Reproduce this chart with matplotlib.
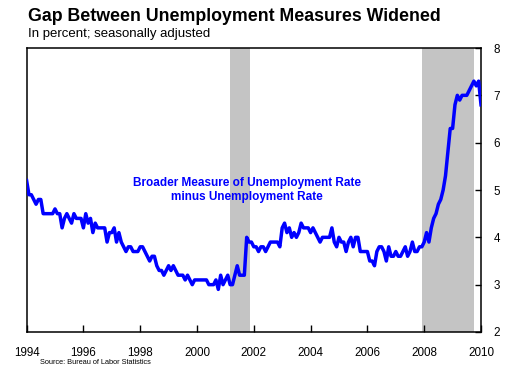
"""Gap between broader unemployment measure (U-6) and the official rate (U-3), 1994-2010."""

import matplotlib
matplotlib.use("Agg")
import matplotlib.pyplot as plt
import numpy as np


# monthly gap, Jan 1994 .. Jan 2010 (percentage points)
gap_values = [
    5.2, 4.9, 4.9, 4.8, 4.7, 4.8, 4.8, 4.5, 4.5, 4.5, 4.5, 4.5,  # 1994
    4.6, 4.5, 4.5, 4.2, 4.4, 4.5, 4.4, 4.3, 4.5, 4.4, 4.4, 4.4,  # 1995
    4.2, 4.5, 4.3, 4.4, 4.1, 4.3, 4.2, 4.2, 4.2, 4.2, 3.9, 4.1,  # 1996
    4.1, 4.2, 3.9, 4.1, 3.9, 3.8, 3.7, 3.8, 3.8, 3.7, 3.7, 3.7,  # 1997
    3.8, 3.8, 3.7, 3.6, 3.5, 3.6, 3.6, 3.4, 3.3, 3.3, 3.2, 3.3,  # 1998
    3.4, 3.3, 3.4, 3.3, 3.2, 3.2, 3.2, 3.1, 3.2, 3.1, 3.0, 3.1,  # 1999
    3.1, 3.1, 3.1, 3.1, 3.1, 3.0, 3.0, 3.0, 3.1, 2.9, 3.2, 3.0,  # 2000
    3.1, 3.2, 3.0, 3.0, 3.2, 3.4, 3.2, 3.2, 3.2, 4.0, 3.9, 3.9,  # 2001
    3.8, 3.8, 3.7, 3.8, 3.8, 3.7, 3.8, 3.9, 3.9, 3.9, 3.9, 3.8,  # 2002
    4.2, 4.3, 4.1, 4.2, 4.0, 4.1, 4.0, 4.1, 4.3, 4.2, 4.2, 4.2,  # 2003
    4.1, 4.2, 4.1, 4.0, 3.9, 4.0, 4.0, 4.0, 4.0, 4.2, 3.9, 3.8,  # 2004
    4.0, 3.9, 3.9, 3.7, 3.9, 4.0, 3.8, 4.0, 4.0, 3.7, 3.7, 3.7,  # 2005
    3.7, 3.5, 3.5, 3.4, 3.7, 3.8, 3.8, 3.7, 3.5, 3.8, 3.6, 3.6,  # 2006
    3.7, 3.6, 3.6, 3.7, 3.8, 3.6, 3.7, 3.9, 3.7, 3.7, 3.8, 3.8,  # 2007
    3.9, 4.1, 3.9, 4.2, 4.4, 4.5, 4.7, 4.8, 5.0, 5.3, 5.8, 6.3,  # 2008
    6.3, 6.8, 7.0, 6.9, 7.0, 7.0, 7.0, 7.1, 7.2, 7.3, 7.2, 7.3,  # 2009
    6.8,                                                          # 2010
]
start_year = 1994
recessions = [(2001.17, 2001.88), (2007.92, 2009.75)]
year_ticks = list(range(1994, 2011, 2))
value_ticks = [2, 3, 4, 5, 6, 7, 8]

TITLE = "Gap Between Unemployment Measures Widened"
SUBTITLE = "In percent; seasonally adjusted"
SOURCE = "Source: Bureau of Labor Statistics"
LABEL = "Broader Measure of Unemployment Rate\nminus Unemployment Rate"

plt.rcParams["font.family"] = ["Liberation Sans", "DejaVu Sans"]

W, H = 510, 370


def plot_gap():
    months = start_year + np.arange(len(gap_values)) / 12.0

    fig = plt.figure(figsize=(W / 100, H / 100), dpi=100)
    ax = fig.add_axes([26.6 / W, 1 - 332 / H, (481 - 26.6) / W, (332 - 48) / H])

    for a, b in recessions:
        ax.axvspan(a, b, color="#c4c4c4", lw=0, zorder=0)
    ax.plot(months, gap_values, color="#0000ff", linewidth=2.5, solid_joinstyle="round", zorder=3)

    ax.set_xlim(1994, 2010)
    ax.set_ylim(2, 8)
    ax.set_xticks(year_ticks)
    ax.set_yticks(value_ticks)
    ax.yaxis.tick_right()
    ax.tick_params(axis="x", direction="in", length=5, width=1, pad=11, labelsize=8.4, top=False)
    ax.tick_params(axis="y", direction="in", length=4, width=1, pad=9, labelsize=8.4, left=False)
    for s in ax.spines.values():
        s.set_linewidth(1.1)

    ax.text(0.484, 0.5, LABEL, transform=ax.transAxes, ha="center", va="center",
            color="#0000ff", fontsize=8.5, fontweight="bold", linespacing=1.2)

    fig.text(28 / W, 1 - 21 / H, TITLE, fontsize=12.8, fontweight="bold", va="baseline")
    fig.text(28 / W, 1 - 36.5 / H, SUBTITLE, fontsize=9.5, va="baseline")
    fig.text(40 / W, 1 - 364 / H, SOURCE, fontsize=5.3, va="baseline")

    fig.savefig("out.png", dpi=100)
    plt.close(fig)


if __name__ == "__main__":
    plot_gap()
